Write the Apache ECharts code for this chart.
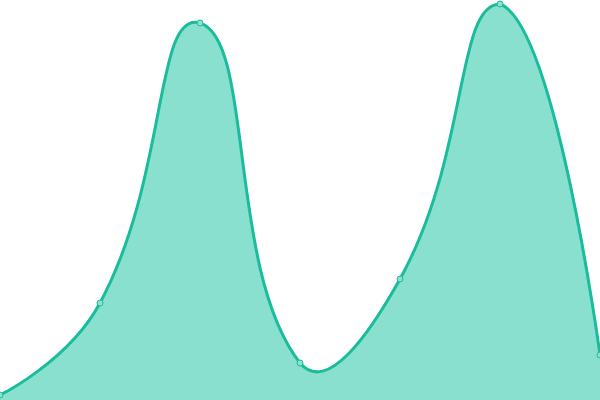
<!DOCTYPE html>
<html>
<head>
<meta charset="utf-8">
<script src="https://cdn.jsdelivr.net/npm/echarts@6/dist/echarts.min.js"></script>
<style>
  html, body { margin: 0; padding: 0; background: #ffffff; }
  #chart { width: 600px; height: 400px; }
</style>
</head>
<body>
<div id="chart"></div>
<script>
const categories = ['A', 'B', 'C', 'D', 'E', 'F', 'G'];
const values = [5, 97, 377, 37, 121, 396, 45];

const lineColor = '#1abc9c';
const areaColor = '#8ae0cf';
const smooth = 0.5;

// smooth curve with control points kept inside the bounding box of all points
// (no per-segment clamp, so the curve may dip past a point like the reference)
function curvePath(pts) {
    let minX = Infinity, minY = Infinity, maxX = -Infinity, maxY = -Infinity;
    pts.forEach(function (p) {
        minX = Math.min(minX, p[0]); maxX = Math.max(maxX, p[0]);
        minY = Math.min(minY, p[1]); maxY = Math.max(maxY, p[1]);
    });
    const clamp = function (c) {
        return [Math.min(Math.max(c[0], minX), maxX), Math.min(Math.max(c[1], minY), maxY)];
    };
    let d = 'M' + pts[0][0] + ',' + pts[0][1];
    let cp0 = pts[0];
    for (let i = 1; i < pts.length; i++) {
        const p = pts[i];
        const prev = pts[i - 1];
        const next = pts[i + 1];
        let nextCp0 = p;
        let v = null, r = 0.5;
        if (next) {
            v = [next[0] - prev[0], next[1] - prev[1]];
            const lenPrev = Math.hypot(p[0] - prev[0], p[1] - prev[1]);
            const lenNext = Math.hypot(next[0] - p[0], next[1] - p[1]);
            r = lenNext / (lenPrev + lenNext);
            nextCp0 = [p[0] - v[0] * smooth * (1 - r), p[1] - v[1] * smooth * (1 - r)];
        }
        const a = clamp(cp0), b = clamp(nextCp0);
        d += ' C' + a[0] + ',' + a[1] + ' ' + b[0] + ',' + b[1] + ' ' + p[0] + ',' + p[1];
        if (next) cp0 = [p[0] + v[0] * smooth * r, p[1] + v[1] * smooth * r];
    }
    return d;
}

function renderCurve(params, api) {
    if (params.dataIndex !== 0) return null;
    const pts = values.map(function (v, i) { return api.coord([i, v]); });
    const base = api.coord([0, 0])[1];
    const n = pts.length;
    const d = curvePath(pts);
    const area = d + ' L' + pts[n - 1][0] + ',' + base + ' L' + pts[0][0] + ',' + base + ' Z';
    return {
        type: 'group',
        children: [{
            type: 'path',
            shape: { pathData: area },
            style: { fill: areaColor, stroke: null }
        }, {
            type: 'path',
            shape: { pathData: d },
            style: { fill: null, stroke: lineColor, lineWidth: 3, lineJoin: 'round' }
        }]
    };
}

const chart = echarts.init(document.getElementById('chart'));

const option = {
    backgroundColor: '#ffffff',
    animation: false,
    grid: { left: 0, right: 0, top: 0, bottom: 0 },
    xAxis: {
        type: 'category',
        data: categories,
        boundaryGap: false,
        show: false
    },
    yAxis: {
        type: 'value',
        min: 0,
        max: 400,
        show: false
    },
    series: [{
        type: 'custom',
        data: values.map(function (v, i) { return [i, v]; }),
        encode: { x: 0, y: 1 },
        renderItem: renderCurve,
        clip: true,
        z: 1
    }, {
        type: 'line',
        data: values,
        symbol: 'circle',
        symbolSize: 6,
        lineStyle: { opacity: 0 },
        itemStyle: { color: '#8de0d0', borderColor: lineColor, borderWidth: 1 },
        z: 3
    }]
};

chart.setOption(option);
</script>
</body>
</html>
